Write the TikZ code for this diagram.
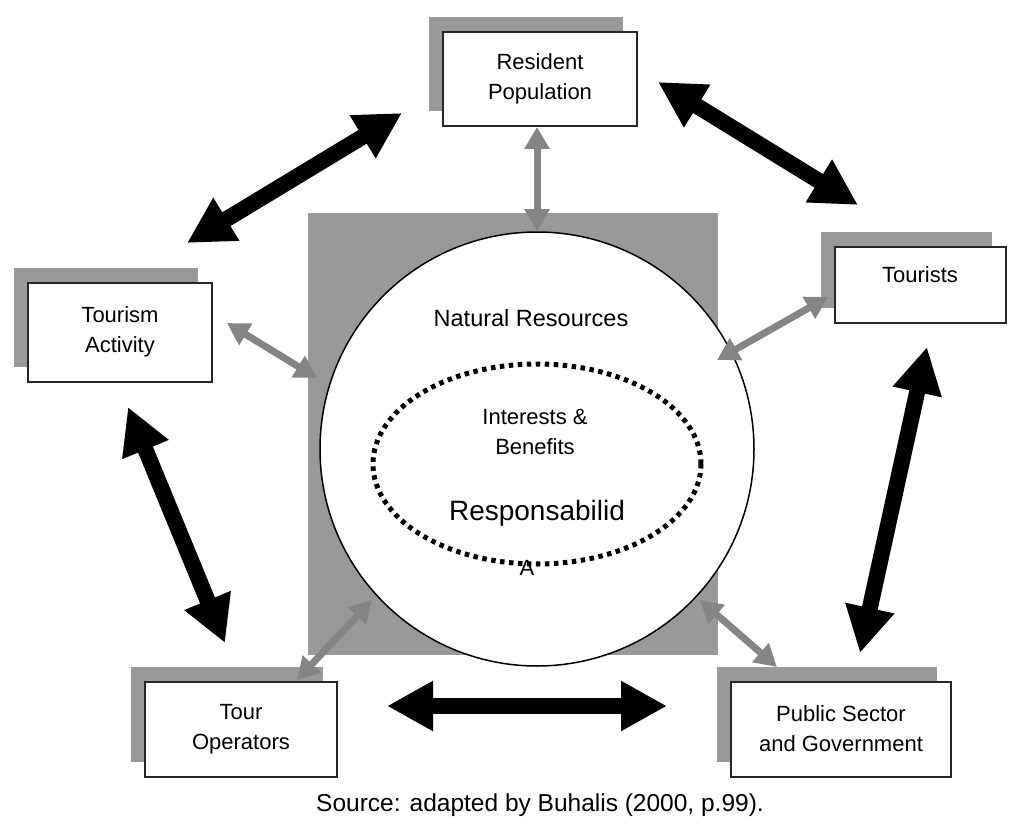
\documentclass[tikz,border=0pt]{standalone}
\usepackage{fontspec}
\setmainfont{Liberation Sans}
\usetikzlibrary{arrows.meta,shadows}
\definecolor{boxgray}{HTML}{999999}
\definecolor{linkgray}{HTML}{858585}
\tikzset{
  actor/.style={draw=black!85, line width=2pt, fill=white, align=center, inner sep=0pt,
    font=\fontsize{22}{30}\selectfont,
    general shadow={fill=boxgray, shadow xshift=-14pt, shadow yshift=15pt}},
  txt/.style={align=center, font=\fontsize{22}{30}\selectfont},
  bigarrow/.style={line width=16pt,
    arrows={Triangle[length=46pt,width=47pt]-Triangle[length=46pt,width=47pt]}},
  smallarrow/.style={draw=linkgray, line width=7pt,
    arrows={Triangle[length=22pt,width=24pt]-Triangle[length=22pt,width=24pt]}},
  dots/.style={line width=5pt, dash pattern=on 4.5pt off 4.5pt}
}
\begin{document}
\begin{tikzpicture}[x=1pt,y=-1pt]
\useasboundingbox (0,0) rectangle (1010,832);

% resources in the middle
\fill[boxgray] (308,213) rectangle (718,655);
\node[circle, draw, line width=1.5pt, fill=white, minimum size=434pt, inner sep=0pt] (NR) at (537,449) {};
\node[txt, font=\fontsize{23.5}{30}\selectfont] (nrtext) at (531,318) {Natural Resources};
\node[txt] (cut) at (527,568) {A};
\draw[dots] (537,464) ellipse [x radius=164, y radius=100];
\node[txt] (ib) at (535,432) {Interests \&\\Benefits};
\node[txt, font=\fontsize{28}{32}\selectfont] (resp) at (537,513) {Responsabilid};

% stakeholders
\node[actor, minimum width=194pt, minimum height=94pt] (RP) at (540,79) {Resident\\Population};
\node[actor, minimum width=184pt, minimum height=99pt] (TA) at (120,332) {Tourism\\Activity};
\node[actor, minimum width=171pt, minimum height=76pt] (TR) at (920,285) {Tourists\\[-10pt]};
\node[actor, minimum width=192pt, minimum height=95pt] (TO) at (241,729) {Tour\\Operators};
\node[actor, minimum width=220pt, minimum height=95pt] (PS) at (841,729) {Public Sector\\and Government};

% links to the resources
\coordinate (ta1) at (227,323);
\coordinate (ta2) at (317,378);
\coordinate (tr1) at (828,297);
\coordinate (tr2) at (717,360);
\coordinate (to1) at (297,680);
\coordinate (to2) at (372,600);
\coordinate (ps1) at (777,667);
\coordinate (ps2) at (700,600);
\draw[smallarrow] (NR.north |- RP.south) -- (NR.north);
\draw[smallarrow] (ta1) -- (ta2);
\draw[smallarrow] (tr1) -- (tr2);
\draw[smallarrow] (to1) -- (to2);
\draw[smallarrow] (ps1) -- (ps2);

% links between stakeholders
\coordinate (a1) at (187,243);
\coordinate (a2) at (402,113);
\coordinate (b1) at (658,82);
\coordinate (b2) at (858,205);
\coordinate (c1) at (128,407);
\coordinate (c2) at (225,643);
\coordinate (d1) at (927,347);
\coordinate (d2) at (860,653);
\coordinate (e1) at (387,706);
\coordinate (e2) at (667,706);
\draw[bigarrow] (a1) -- (a2);
\draw[bigarrow] (b1) -- (b2);
\draw[bigarrow] (c1) -- (c2);
\draw[bigarrow] (d1) -- (d2);
\draw[bigarrow] (e1) -- (e2);

\node[txt, font=\fontsize{24.5}{30}\selectfont] (src) at (540,805) {Source: adapted by Buhalis (2000, p.99).};
\end{tikzpicture}
\end{document}
